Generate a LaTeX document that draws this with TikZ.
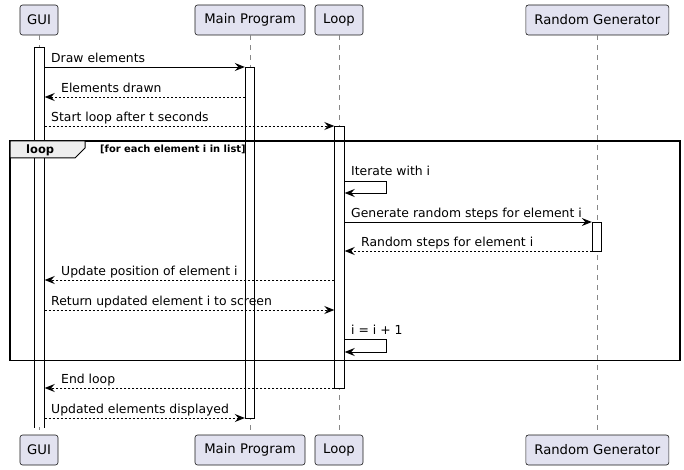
\documentclass[tikz,border=0pt]{standalone}
\usepackage{fontspec}
\setmainfont{DejaVu Sans}
\usetikzlibrary{arrows.meta}
\definecolor{partfill}{HTML}{E2E2F0}
\definecolor{partline}{HTML}{181818}
\definecolor{lifegray}{HTML}{888888}
\definecolor{tabfill}{HTML}{EEEEEE}

\begin{document}
\begin{tikzpicture}[x=1pt, y=-1pt,
  part/.style={draw=partline, fill=partfill, rounded corners=2.5pt, line width=0.6pt, minimum height=30pt, inner sep=0pt, font=\fontsize{13.2}{15}\selectfont},
  act/.style={draw=black, fill=white, line width=0.9pt, minimum width=9.5pt, inner sep=0pt, anchor=north},
  life/.style={draw=lifegray, line width=0.7pt, dash pattern=on 5pt off 5pt},
  msg/.style={line width=0.9pt, -{Stealth[length=10pt, width=8pt, inset=3.5pt]}},
  reply/.style={msg, dash pattern=on 2pt off 2pt},
  lbl/.style={anchor=base west, inner sep=0pt, font=\fontsize{12.4}{14}\selectfont}]
\useasboundingbox (0,0) rectangle (684,470);

\node[part, minimum width=38pt]  (guiT)  at (39,20)    {GUI};
\node[part, minimum width=110pt] (mainT) at (250,20)   {Main Program};
\node[part, minimum width=48pt]  (loopT) at (339,20)   {Loop};
\node[part, minimum width=143pt] (rngT)  at (597.3,20) {Random Generator};
\node[part, minimum width=38pt]  (guiB)  at (39,450)    {GUI};
\node[part, minimum width=110pt] (mainB) at (250,450)   {Main Program};
\node[part, minimum width=48pt]  (loopB) at (339,450)   {Loop};
\node[part, minimum width=143pt] (rngB)  at (597.3,450) {Random Generator};

% lifelines
\draw[life] (guiT) -- (guiB);
\draw[life] (mainT) -- (mainB);
\draw[life] (loopT) -- (loopB);
\draw[life] (rngT) -- (rngB);

% activations (the GUI one stays open at the bottom)
\node[act, draw=none, minimum height=380pt] (guiA) at (39.5,47) {};
\draw[line width=0.9pt] (guiA.south west) -- (guiA.north west) -- (guiA.north east) -- (guiA.south east);
\node[act, minimum height=351pt] (mainA) at (250,67)   {};
\node[act, minimum height=262pt] (loopA) at (339.5,126) {};
\node[act, minimum height=29pt]  (rngA)  at (597,222)  {};

% loop frame
\draw[line width=1.4pt] (10,141) rectangle (680,360.5);
\draw[fill=tabfill, line width=1pt] (10,141) -- (85,141) -- (85,148) -- (75,158) -- (10,158) -- cycle;
\node[anchor=base west, inner sep=0pt, font=\bfseries\fontsize{11.5}{13}\selectfont] (looptag) at (26,153.5) {loop};
\node[anchor=base west, inner sep=0pt, font=\bfseries\fontsize{9.9}{12}\selectfont] (loopguard) at (100,153) {[for each element i in list]};

% messages
\draw[msg]   (guiA.east |- 0,67) -- (mainA.west |- 0,67);
\node[lbl] (m1) at (51,62.5) {Draw elements};
\draw[reply] (mainA.west |- 0,97) -- (guiA.east |- 0,97);
\node[lbl] (m2) at (61,92.5) {Elements drawn};
\draw[reply] (guiA.east |- 0,126) -- (loopA.west |- 0,126);
\node[lbl] (m3) at (51,121.5) {Start loop after t seconds};
\draw[msg]   (loopA.east |- 0,181) -| ++(42,12) -- (loopA.east |- 0,193);
\node[lbl] (m4) at (351,175.5) {Iterate with i};
\draw[msg]   (loopA.east |- 0,222) -- (rngA.west |- 0,222);
\node[lbl] (m5) at (351,217) {Generate random steps for element i};
\draw[reply] (rngA.west |- 0,251) -- (loopA.east |- 0,251);
\node[lbl] (m6) at (361,246.5) {Random steps for element i};
\draw[reply] (loopA.west |- 0,280) -- (guiA.east |- 0,280);
\node[lbl] (m7) at (61,275.5) {Update position of element i};
\draw[reply] (guiA.east |- 0,310) -- (loopA.west |- 0,310);
\node[lbl] (m8) at (51,305.5) {Return updated element i to screen};
\draw[msg]   (loopA.east |- 0,339) -| ++(42,13) -- (loopA.east |- 0,352);
\node[lbl] (m9) at (351,334.5) {i = i + 1};
\draw[reply] (loopA.west |- 0,388) -- (guiA.east |- 0,388);
\node[lbl] (m10) at (61,383.5) {End loop};
\draw[reply] (guiA.east |- 0,418) -- (mainA.west |- 0,418);
\node[lbl] (m11) at (51,413.5) {Updated elements displayed};

\end{tikzpicture}
\end{document}
